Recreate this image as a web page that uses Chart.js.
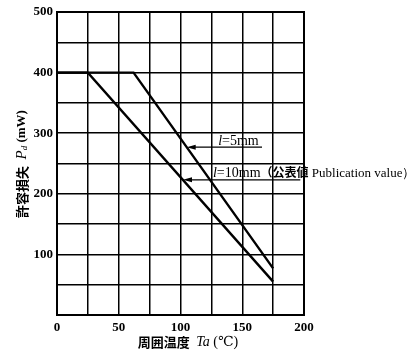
<!DOCTYPE html>
<html>
<head>
<meta charset="utf-8">
<script src="https://cdn.jsdelivr.net/npm/chart.js@4/dist/chart.umd.min.js"></script>
<style>
  html, body { margin: 0; padding: 0; background: #fff; }
  #wrap { width: 415px; height: 354px; }
</style>
</head>
<body>
<div id="wrap"><canvas id="chart"></canvas></div>
<script>
// ambient temperature Ta (°C) vs allowable power dissipation Pd (mW)
const temp5mm = [0, 62, 175];
const power5mm = [400, 400, 77];
const temp10mm = [0, 25, 175];
const power10mm = [400, 400, 55];

const xTickLabels = [0, 50, 100, 150, 200];
const yTickLabels = [100, 200, 300, 400, 500];

const serif = '"Liberation Serif", "DejaVu Serif", serif';
const cjk = '"Noto Sans CJK JP", "Noto Sans CJK SC", sans-serif';

const toPoints = (xs, ys) => xs.map((x, i) => ({ x, y: ys[i] }));

// leader lines with arrowheads and their labels, in data units
const leaders = [
  { tip: [105, 277], tail: [166, 277], text: [130.5, 280.5], parts: [['l', 'italic'], ['=5mm', '']] },
  { tip: [102, 223], tail: [197, 223], text: [126.3, 227.7],
    parts: [['l', 'italic'], ['=10mm', ''], ['（公表値', 'cjk'], [' Publication value）', 'small']] },
];

const decorations = {
  id: 'decorations',
  afterDatasetsDraw(chart) {
    const { ctx, scales: { x, y }, chartArea: area } = chart;
    ctx.save();
    ctx.strokeStyle = '#000';
    ctx.fillStyle = '#000';

    leaders.forEach((ld) => {
      const tx = x.getPixelForValue(ld.tip[0]);
      const ty = y.getPixelForValue(ld.tip[1]);
      const ex = x.getPixelForValue(ld.tail[0]);
      ctx.lineWidth = 1.3;
      ctx.beginPath();
      ctx.moveTo(tx + 4, ty);
      ctx.lineTo(ex, ty);
      ctx.stroke();
      ctx.beginPath();
      ctx.moveTo(tx, ty);
      ctx.lineTo(tx + 9, ty - 2.5);
      ctx.lineTo(tx + 9, ty + 2.5);
      ctx.closePath();
      ctx.fill();

      let px = x.getPixelForValue(ld.text[0]);
      const py = y.getPixelForValue(ld.text[1]);
      ctx.textBaseline = 'alphabetic';
      ctx.textAlign = 'left';
      ld.parts.forEach(([s, style]) => {
        if (style === 'cjk') ctx.font = 'bold 12px ' + cjk;
        else if (style === 'italic') ctx.font = 'italic 14px ' + serif;
        else if (style === 'small') ctx.font = '13px ' + serif;
        else ctx.font = '14px ' + serif;
        ctx.fillText(s, px, py);
        px += ctx.measureText(s).width;
      });
    });

    // axis titles
    ctx.textBaseline = 'middle';
    ctx.textAlign = 'left';
    const xParts = [['周囲温度', 'bold 13px ' + cjk], ['  ', '13px ' + serif], ['Ta', 'italic 14px ' + serif], [' (℃)', '14px ' + serif]];
    let w = 0;
    xParts.forEach(([s, f]) => { ctx.font = f; w += ctx.measureText(s).width; });
    let cx = 188 - w / 2;
    xParts.forEach(([s, f]) => { ctx.font = f; ctx.fillText(s, cx, 342); cx += ctx.measureText(s).width; });

    ctx.translate(22, 164);
    ctx.rotate(-Math.PI / 2);
    const yParts = [['許容損失', 'bold 13px ' + cjk], ['  ', '13px ' + serif], ['P', 'italic 15px ' + serif], ['d', 'italic 9px ' + serif], [' (mW)', 'bold 13px ' + serif]];
    w = 0;
    yParts.forEach(([s, f]) => { ctx.font = f; w += ctx.measureText(s).width; });
    cx = -w / 2;
    yParts.forEach(([s, f]) => {
      ctx.font = f;
      ctx.fillText(s, cx, s === 'd' ? 3 : 0);
      cx += ctx.measureText(s).width;
    });
    ctx.restore();

    // frame
    ctx.save();
    ctx.strokeStyle = '#000';
    ctx.lineWidth = 2;
    ctx.strokeRect(area.left, area.top, area.right - area.left, area.bottom - area.top);
    ctx.restore();
  },
};

new Chart(document.getElementById('chart'), {
  type: 'scatter',
  data: {
    datasets: [
      { label: 'l=5mm', data: toPoints(temp5mm, power5mm) },
      { label: 'l=10mm', data: toPoints(temp10mm, power10mm) },
    ].map((d) => Object.assign(d, {
      showLine: true,
      tension: 0,
      borderColor: '#000',
      backgroundColor: '#000',
      borderWidth: 2.4,
      pointRadius: 0,
      pointHoverRadius: 0,
    })),
  },
  options: {
    responsive: true,
    maintainAspectRatio: false,
    animation: false,
    events: [],
    layout: { padding: { top: 12, right: 111, bottom: 0, left: 0 } },
    plugins: { legend: { display: false }, tooltip: { enabled: false } },
    scales: {
      x: {
        type: 'linear',
        min: 0,
        max: 200,
        afterFit: (s) => { s.height = 39; },
        grid: { color: '#000', lineWidth: 1.5, drawTicks: false },
        border: { color: '#000', width: 2 },
        ticks: {
          stepSize: 25,
          padding: 5,
          color: '#000',
          font: { family: serif, size: 13, weight: 'bold' },
          callback: (v) => (xTickLabels.includes(v) ? String(v) : ''),
          maxRotation: 0,
          autoSkip: false,
        },
      },
      y: {
        type: 'linear',
        min: 0,
        max: 500,
        afterFit: (s) => { s.width = 57; },
        grid: { color: '#000', lineWidth: 1.5, drawTicks: false },
        border: { color: '#000', width: 2 },
        ticks: {
          stepSize: 50,
          padding: 4,
          color: '#000',
          font: { family: serif, size: 13, weight: 'bold' },
          callback: (v) => (yTickLabels.includes(v) ? String(v) : ''),
          autoSkip: false,
        },
      },
    },
  },
  plugins: [decorations],
});
</script>
</body>
</html>
